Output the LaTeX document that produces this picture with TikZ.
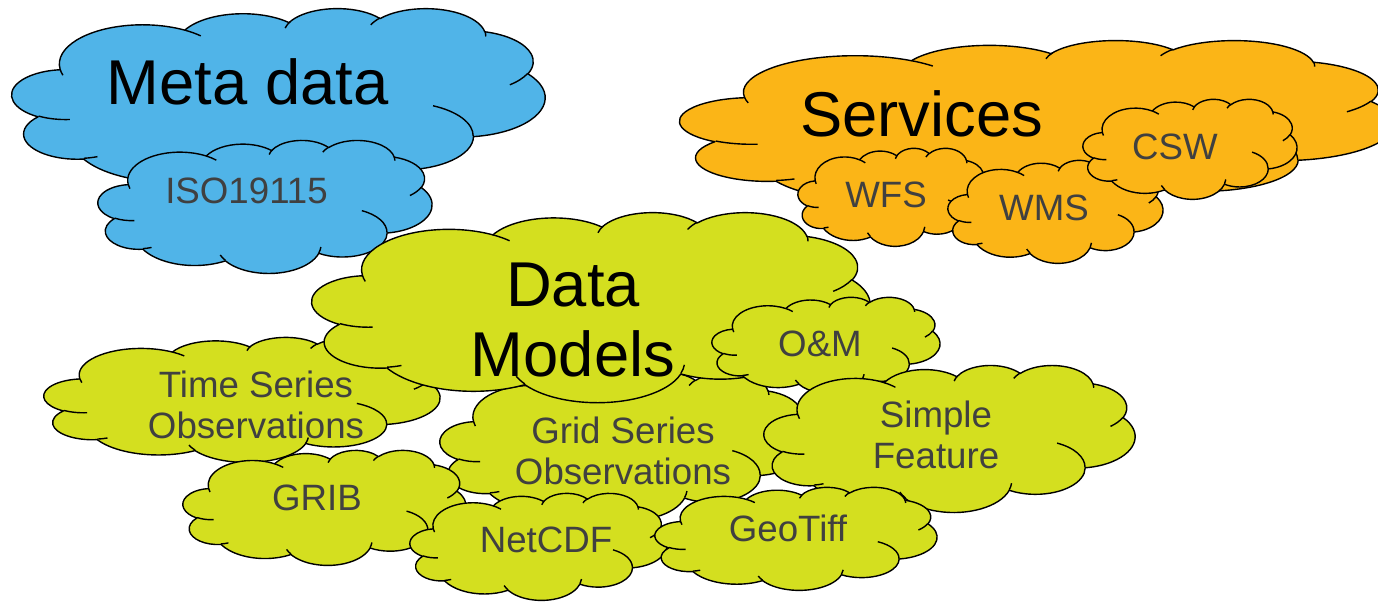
\documentclass[tikz,border=0pt]{standalone}
\usepackage{fontspec}
\setmainfont{Liberation Sans}
\definecolor{cblue}{HTML}{50B4E8}
\definecolor{corange}{HTML}{FBB517}
\definecolor{cgreen}{HTML}{D4DF1F}
\definecolor{tgray}{HTML}{404040}
% arc styles from visual (OOXML) angles to parametric angles
\newcommand\mkarc[5]{%
  \pgfmathsetmacro\mkA{atan2((#2)*sin(#4),(#3)*cos(#4))}%
  \pgfmathsetmacro\mkB{atan2((#2)*sin((#4)+(#5)),(#3)*cos((#4)+(#5)))}%
  \pgfmathsetmacro\mkD{\mkB-(\mkA)-360*round((\mkB-(\mkA)-(#5))/360)}%
  \edef\mkT{\noexpand\tikzset{#1/.style={start angle=\mkA,delta angle=\mkD,x radius=#2,y radius=#3}}}%
  \mkT}
\mkarc{arcOA}{6.753}{9.190}{-190.4875}{123.7805}
\mkarc{arcOB}{5.333}{7.267}{-144.1024}{89.9452}
\mkarc{arcOC}{4.365}{5.945}{-145.8079}{99.7230}
\mkarc{arcOD}{4.857}{6.595}{-130.9861}{117.2417}
\mkarc{arcOE}{5.333}{7.273}{-78.7089}{109.0269}
\mkarc{arcOF}{6.775}{9.220}{-46.2673}{130.2690}
\mkarc{arcOG}{5.785}{7.867}{0.6250}{114.0333}
\mkarc{arcOH}{6.752}{9.215}{22.4516}{115.1726}
\mkarc{arcOI}{7.720}{10.543}{66.2426}{75.7110}
\mkarc{arcOJ}{4.360}{5.918}{-274.9421}{146.7356}
\mkarc{arcOK}{4.345}{5.945}{-246.8285}{152.5189}
\mkarc{arcIA}{4.345}{5.945}{86.7420}{26.4295}
\mkarc{arcIB}{4.360}{5.918}{73.6105}{11.4475}
\mkarc{arcIC}{6.752}{9.215}{137.6242}{14.0811}
\mkarc{arcID}{6.752}{9.215}{6.4533}{15.9984}
\mkarc{arcIE}{5.785}{7.867}{-70.2924}{70.9174}
\mkarc{arcIF}{5.333}{7.273}{30.3180}{27.7515}
\mkarc{arcIG}{4.857}{6.595}{-13.7443}{14.8589}
\mkarc{arcIH}{4.857}{6.595}{-149.1815}{18.1954}
\mkarc{arcII}{4.365}{5.945}{-163.4943}{19.0155}
\mkarc{arcIJ}{6.753}{9.190}{-66.7070}{12.3194}
\mkarc{arcIK}{6.753}{9.190}{157.6544}{11.8582}
% cloud: #1 name, #2 x0, #3 y0, #4 x1, #5 y1, #6 fill
\newcommand\pcloud[6]{%
  \pgfmathsetmacro\cw{(#4-#2)*0.75/43.2}%
  \pgfmathsetmacro\ch{(#5-#3)*0.75/43.2}%
  \begin{scope}[shift={(#2,#3)}, x=\cw pt, y=-\ch pt]
    \coordinate (#1) at (21.6,21.6);
    \filldraw[fill=#6, outl] (3.900,14.370) arc[arcOA] arc[arcOB] arc[arcOC] arc[arcOD] arc[arcOE]
      arc[arcOF] arc[arcOG] arc[arcOH] arc[arcOI] arc[arcOJ] arc[arcOK] -- cycle;
    \draw[outl] (4.693,26.177) arc[arcIA] (6.928,34.899) arc[arcIB]
      (16.478,39.090) arc[arcIC] (28.827,34.751) arc[arcID]
      (34.129,22.954) arc[arcIE] (41.798,15.354) arc[arcIF]
      (38.324,5.426) arc[arcIG] (29.078,3.952) arc[arcIH]
      (22.141,4.720) arc[arcII] (14.000,5.192) arc[arcIJ]
      (4.127,15.789) arc[arcIK];
  \end{scope}}
\begin{document}
\begin{tikzpicture}[x=0.75pt,y=-0.75pt,
  outl/.style={draw=black,line width=1.05pt,line join=round},
  title/.style={font=\fontsize{47.5}{52.5}\selectfont,text=black,inner sep=0pt,align=center},
  lbl/.style={font=\fontsize{27.5}{30.75}\selectfont,text=tgray,inner sep=0pt,align=center}]
\useasboundingbox (0,0) rectangle (1378,604);
% Meta data group
\pcloud{cmeta}{12}{8}{545}{192}{cblue}
\node[title,anchor=base] (meta) at (247.5,104) {Meta data};
\pcloud{ciso}{98}{140}{432}{273}{cblue}
\node[lbl,anchor=base] (iso) at (246.5,203) {ISO19115};
% Services group
\pcloud{cserv}{680}{40}{1394}{212}{corange}
\node[title,anchor=base] (serv) at (921.5,136) {Services};
\pcloud{cwfs}{798}{148}{988}{246}{corange}
\node[lbl,anchor=base] (wfs) at (886,207) {WFS};
\pcloud{cwms}{948}{160}{1163}{263}{corange}
\node[lbl,anchor=base] (wms) at (1044,220) {WMS};
\pcloud{ccsw}{1083}{99}{1297}{199}{corange}
\node[lbl,anchor=base] (csw) at (1175,159) {CSW};
% Data models group
\pcloud{cgrid}{440}{372}{810}{520}{cgreen}
\node[lbl,anchor=south] (grid) at (623,485) {Grid Series\\Observations};
\pcloud{ctime}{44}{337}{440}{462}{cgreen}
\node[lbl,anchor=south] (time) at (256,439) {Time Series\\Observations};
\pcloud{cdata}{312}{212}{870}{402}{cgreen}
\node[title,anchor=south] (data) at (573,377) {Data\\Models};
\pcloud{com}{712}{297}{940}{393}{cgreen}
\node[lbl,anchor=base] (om) at (820,356) {O\&M};
\pcloud{csf}{764}{365}{1135}{512}{cgreen}
\node[lbl,anchor=south] (sf) at (936,469) {Simple\\Feature};
\pcloud{cgrib}{183}{450}{466}{565}{cgreen}
\node[lbl,anchor=base] (grib) at (317,510) {GRIB};
\pcloud{cnet}{410}{493}{667}{600}{cgreen}
\node[lbl,anchor=base] (net) at (546,552) {NetCDF};
\pcloud{cgeo}{655}{487}{937}{590}{cgreen}
\node[lbl,anchor=base] (geo) at (788,541) {GeoTiff};
\end{tikzpicture}
\end{document}
